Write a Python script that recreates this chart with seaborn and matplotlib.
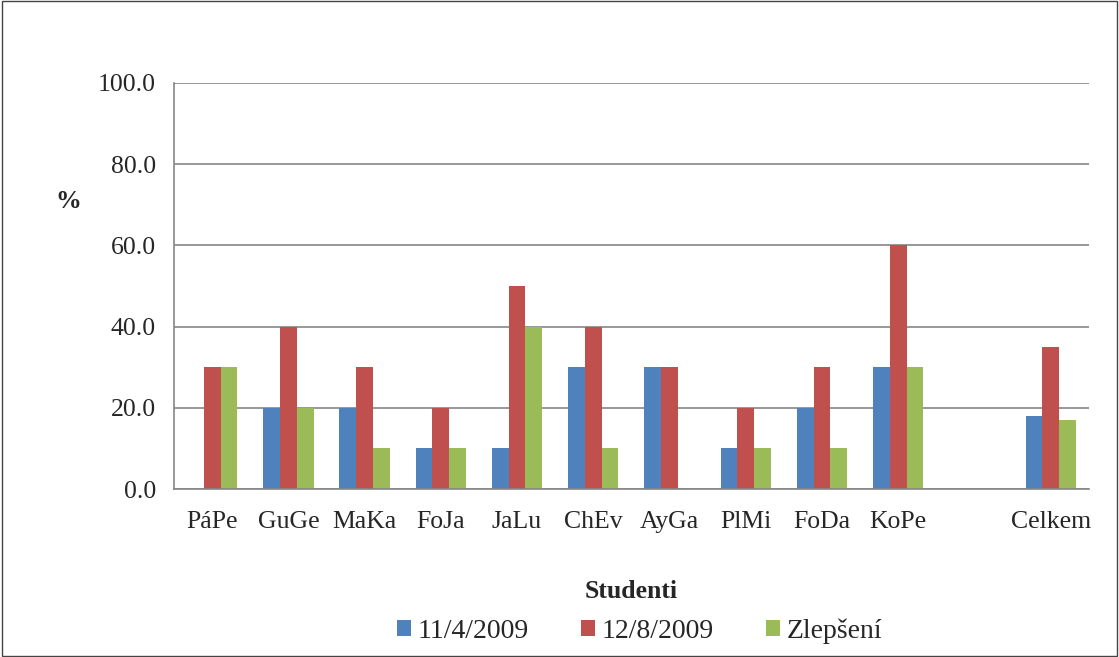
import pandas as pd
import seaborn as sns
import matplotlib.pyplot as plt
from matplotlib.ticker import FixedLocator, NullFormatter

studenti = ['PáPe', 'GuGe', 'MaKa', 'FoJa', 'JaLu', 'ChEv', 'AyGa', 'PlMi', 'FoDa', 'KoPe', '', 'Celkem']
test_1 = [0, 20, 20, 10, 10, 30, 30, 10, 20, 30, None, 18]
test_2 = [30, 40, 30, 20, 50, 40, 30, 20, 30, 60, None, 35]
zlepseni = [30, 20, 10, 10, 40, 10, 0, 10, 10, 30, None, 17]
serie = ['11/4/2009', '12/8/2009', 'Zlepšení']
barvy = ['#4F81BD', '#C0504D', '#9BBB59']

df = pd.DataFrame({'Student': studenti, serie[0]: test_1, serie[1]: test_2, serie[2]: zlepseni})
df = df.melt(id_vars='Student', var_name='Serie', value_name='Hodnota')

sns.set_style('white')
plt.rcParams['font.family'] = ['Liberation Serif', 'DejaVu Serif']
fs = 18.5

fig = plt.figure(figsize=(11.19, 6.57), dpi=100)
ax = fig.add_axes([0.1555, 0.2557, 0.973 - 0.1555, 0.8737 - 0.2557])

sns.barplot(data=df, x='Student', y='Hodnota', hue='Serie', order=studenti,
            hue_order=serie, palette=barvy, width=0.66, errorbar=None,
            saturation=1, linewidth=0, ax=ax)

ax.set_ylim(0, 100)
ax.set_xlim(-0.5, len(studenti) - 0.5)
ax.set_yticks(range(0, 101, 20))
ax.set_yticklabels([f'{v:.1f}' for v in range(0, 101, 20)], fontsize=fs)
ax.yaxis.grid(True, color='#868686', linewidth=1.2)
ax.set_axisbelow(True)
for s in ['top', 'right']:
    ax.spines[s].set_visible(False)
for s in ['left', 'bottom']:
    ax.spines[s].set_color('#868686')
    ax.spines[s].set_linewidth(1.2)

# ticks between categories, labels centred
ax.set_xticks(range(len(studenti)))
ax.set_xticklabels(studenti, fontsize=fs)
ax.tick_params(axis='x', which='major', length=0, pad=16)
ax.xaxis.set_minor_locator(FixedLocator([i - 0.5 for i in range(len(studenti) + 1)]))
ax.xaxis.set_minor_formatter(NullFormatter())
ax.tick_params(axis='x', which='minor', length=7, color='#868686', width=1.2, direction='out')
ax.tick_params(axis='y', length=7, color='#868686', width=1.2, direction='out', pad=6)

ax.set_xlabel('Studenti', fontsize=fs, fontweight='bold', labelpad=34)
ax.set_ylabel('%', fontsize=fs, fontweight='bold', rotation=0, labelpad=0)
ax.yaxis.set_label_coords(-0.116, 0.68)

ax.legend(loc='center', bbox_to_anchor=(0.509, -0.35), ncol=3, frameon=False,
          fontsize=20, handlelength=0.5, handleheight=0.5, columnspacing=1.9,
          handletextpad=0.22)

fig.patches.append(plt.Rectangle((0.002, 0.002), 0.996, 0.996, transform=fig.transFigure,
                                 fill=False, edgecolor='#444444', linewidth=1))

fig.savefig('out.png', dpi=100)
